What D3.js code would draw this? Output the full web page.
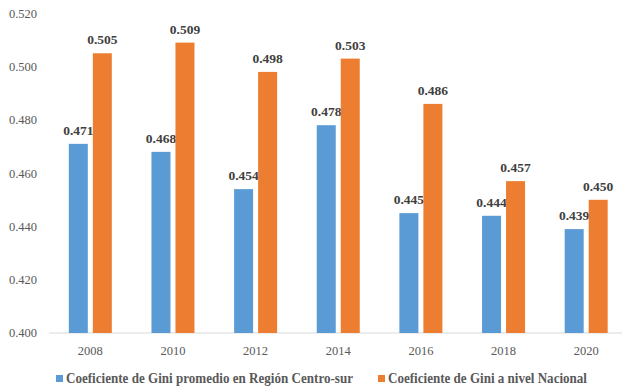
<!DOCTYPE html>
<html>
<head>
<meta charset="utf-8">
<script src="https://cdn.jsdelivr.net/npm/d3@7"></script>
<style>
  body { margin: 0; background: #fff; }
</style>
</head>
<body>
<div id="chart"></div>
<script>
// data
var years = ["2008", "2010", "2012", "2014", "2016", "2018", "2020"];
var regional = [0.471, 0.468, 0.454, 0.478, 0.445, 0.444, 0.439];
var nacional = [0.505, 0.509, 0.498, 0.503, 0.486, 0.457, 0.450];
var seriesNames = ["Coeficiente de Gini promedio en Región Centro-sur", "Coeficiente de Gini a nivel Nacional"];
var yTicks = [0.400, 0.420, 0.440, 0.460, 0.480, 0.500, 0.520];

var colors = ["#5B9BD5", "#ED7D31"];
var W = 622, H = 390;
var FONT = "Liberation Serif";

var svg = d3.select("#chart").append("svg")
  .attr("width", W).attr("height", H);

var x = d3.scaleBand().domain(years).range([49, 627.5]);
var y = d3.scaleLinear().domain([0.400, 0.520]).range([333, 13.3]);

var barW = 19, gap = 5;

// y tick labels
svg.append("g").selectAll("text")
  .data(yTicks).enter().append("text")
  .attr("x", 37)
  .attr("y", function(d) { return y(d); })
  .attr("dy", "0.35em")
  .attr("text-anchor", "end")
  .style("font-family", FONT)
  .style("font-size", "12.5px")
  .attr("fill", "#595959")
  .text(function(d) { return d.toFixed(3); });

// baseline
svg.append("line")
  .attr("x1", 49).attr("x2", W)
  .attr("y1", y(0.400)).attr("y2", y(0.400))
  .attr("stroke", "#D9D9D9").attr("stroke-width", 1);

// x labels
svg.append("g").selectAll("text")
  .data(years).enter().append("text")
  .attr("x", function(d) { return x(d) + x.bandwidth() / 2; })
  .attr("y", 355)
  .attr("text-anchor", "middle")
  .style("font-family", FONT)
  .style("font-size", "12.5px")
  .attr("fill", "#595959")
  .text(function(d) { return d; });

var series = [regional, nacional];
series.forEach(function(vals, s) {
  var off = s === 0 ? -(barW + gap / 2) : gap / 2;
  var g = svg.append("g");
  g.selectAll("rect")
    .data(vals).enter().append("rect")
    .attr("x", function(d, i) { return x(years[i]) + x.bandwidth() / 2 + off; })
    .attr("y", function(d) { return y(d); })
    .attr("width", barW)
    .attr("height", function(d) { return y(0.400) - y(d); })
    .attr("fill", colors[s]);
  g.selectAll("text")
    .data(vals).enter().append("text")
    .attr("x", function(d, i) { return x(years[i]) + x.bandwidth() / 2 + off + barW / 2; })
    .attr("y", function(d) { return y(d) - 9; })
    .attr("text-anchor", "middle")
    .style("font-family", FONT)
    .style("font-size", "13.5px")
    .style("font-weight", "bold")
    .attr("fill", "#404040")
    .text(function(d) { return d.toFixed(3); });
});

// legend
var legX = [56, 378];
var legW = [287, 199];
seriesNames.forEach(function(name, s) {
  svg.append("rect")
    .attr("x", legX[s]).attr("y", 375)
    .attr("width", 7).attr("height", 7)
    .attr("fill", colors[s]);
  svg.append("text")
    .attr("x", legX[s] + 10).attr("y", 383)
    .style("font-family", FONT)
    .style("font-size", "15px")
    .style("font-weight", "bold")
    .attr("fill", "#595959")
    .attr("textLength", legW[s])
    .attr("lengthAdjust", "spacingAndGlyphs")
    .text(name);
});
</script>
</body>
</html>
